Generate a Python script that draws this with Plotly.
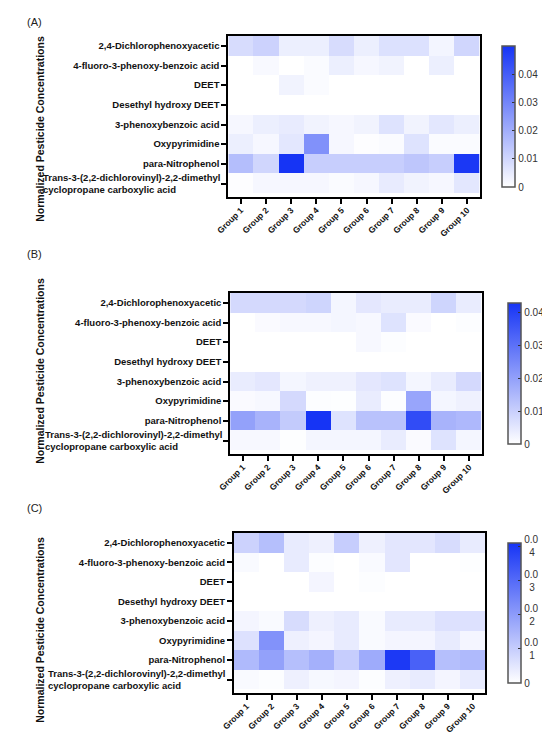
import plotly.graph_objects as go

# Heatmaps of normalized pesticide concentrations, panels (A), (B), (C)
compounds = [
    "2,4-Dichlorophenoxyacetic",
    "4-fluoro-3-phenoxy-benzoic acid",
    "DEET",
    "Desethyl hydroxy DEET",
    "3-phenoxybenzoic acid",
    "Oxypyrimidine",
    "para-Nitrophenol",
    "Trans-3-(2,2-dichlorovinyl)-2,2-dimethyl<br>cyclopropane carboxylic acid",
]
groups = ["Group 1", "Group 2", "Group 3", "Group 4", "Group 5",
          "Group 6", "Group 7", "Group 8", "Group 9", "Group 10"]

# values (rows = compounds, columns = groups)
panel_a = [
    [0.0085, 0.011, 0.004, 0.004, 0.0085, 0.004, 0.0075, 0.0075, 0.0025, 0.010],
    [0.0, 0.0015, 0.0, 0.001, 0.004, 0.002, 0.003, 0.0, 0.004, 0.0],
    [0.0, 0.0, 0.003, 0.001, 0.0, 0.0, 0.0, 0.0, 0.0, 0.0],
    [0.0, 0.0, 0.0, 0.0, 0.0, 0.0, 0.0, 0.0, 0.0, 0.0],
    [0.002, 0.004, 0.005, 0.003, 0.002, 0.003, 0.007, 0.003, 0.006, 0.004],
    [0.004, 0.002, 0.006, 0.027, 0.002, 0.0005, 0.001, 0.007, 0.001, 0.001],
    [0.016, 0.010, 0.050, 0.012, 0.012, 0.012, 0.012, 0.014, 0.012, 0.049],
    [0.0005, 0.002, 0.002, 0.002, 0.001, 0.002, 0.005, 0.003, 0.002, 0.006],
]
panel_b = [
    [0.008, 0.008, 0.008, 0.009, 0.002, 0.005, 0.004, 0.004, 0.009, 0.004],
    [0.0, 0.001, 0.0015, 0.0015, 0.002, 0.0015, 0.006, 0.001, 0.0, 0.0005],
    [0.0, 0.0, 0.0, 0.0, 0.0, 0.0015, 0.0005, 0.0, 0.0, 0.0],
    [0.0, 0.0, 0.0, 0.0, 0.0, 0.0, 0.0, 0.0, 0.0, 0.0],
    [0.004, 0.005, 0.002, 0.003, 0.003, 0.005, 0.006, 0.002, 0.004, 0.008],
    [0.001, 0.0015, 0.008, 0.0005, 0.0003, 0.004, 0.0005, 0.019, 0.002, 0.003],
    [0.020, 0.016, 0.011, 0.043, 0.006, 0.013, 0.013, 0.038, 0.016, 0.015],
    [0.0015, 0.0015, 0.0003, 0.002, 0.002, 0.002, 0.004, 0.001, 0.006, 0.002],
]
panel_c = [
    [0.009, 0.013, 0.004, 0.003, 0.010, 0.003, 0.005, 0.005, 0.007, 0.004],
    [0.001, 0.0, 0.004, 0.0005, 0.0, 0.001, 0.005, 0.0, 0.0, 0.0003],
    [0.0, 0.0, 0.0, 0.002, 0.0, 0.0005, 0.0, 0.0, 0.0, 0.0],
    [0.0, 0.0, 0.0, 0.0, 0.0, 0.0, 0.0, 0.0, 0.0, 0.0],
    [0.002, 0.001, 0.007, 0.003, 0.004, 0.001, 0.004, 0.004, 0.006, 0.006],
    [0.006, 0.022, 0.003, 0.002, 0.004, 0.001, 0.002, 0.002, 0.004, 0.002],
    [0.014, 0.019, 0.013, 0.016, 0.010, 0.017, 0.040, 0.032, 0.013, 0.014],
    [0.001, 0.0005, 0.003, 0.0015, 0.002, 0.0005, 0.003, 0.004, 0.002, 0.004],
]
z_max = [0.050, 0.043, 0.041]
cbar_ticks = [0, 0.01, 0.02, 0.03, 0.04]
cbar_text_ab = ["0", "0.01", "0.02", "0.03", "0.04"]
cbar_text_c = ["0", "0.0<br>\u20021", "0.0<br>\u20022", "0.0<br>\u20023", "0.0<br>\u20024"]
panel_labels = ["(A)", "(B)", "(C)"]
y_title = "Normalized Pesticide Concentrations"

W, H = 550, 735
blues = [[0, "rgb(255,255,255)"], [1, "rgb(22,52,245)"]]
font_fam = "Liberation Sans, Arial, sans-serif"

# pixel boxes: heatmap (x0, x1, y0, y1), colorbar x0, y-title centre, label centre
boxes = [
    dict(hm=(221, 489, 28, 189), cb=502, title_y=121, lab_y=14),
    dict(hm=(223, 491, 285, 446), cb=508, title_y=363, lab_y=246),
    dict(hm=(227, 495, 525, 685), cb=508, title_y=622, lab_y=500),
]

# last label drawn as a left-aligned annotation
tick_text = compounds[:-1] + [""]

fig = go.Figure()
layout = {}
annotations = []
for i, (data, box) in enumerate(zip([panel_a, panel_b, panel_c], boxes)):
    n = "" if i == 0 else str(i + 1)
    x0, x1, y0, y1 = box["hm"]
    fig.add_trace(go.Heatmap(
        z=data, x=groups, y=compounds,
        xaxis="x" + n, yaxis="y" + n,
        zmin=0, zmax=z_max[i], colorscale=blues,
        colorbar=dict(
            x=box["cb"] / W, xanchor="left",
            y=1 - (y0 + y1) / 2 / H, yanchor="middle",
            len=(y1 - y0) / H, lenmode="fraction",
            thickness=13, outlinecolor="#555", outlinewidth=1.5,
            tickvals=cbar_ticks,
            ticktext=cbar_text_c if i == 2 else cbar_text_ab,
            ticks="inside", ticklen=3, tickcolor="#333",
            tickfont=dict(size=10, color="#333", family=font_fam),
        ),
    ))
    layout["xaxis" + n] = dict(
        domain=[x0 / W, x1 / W], anchor="y" + n,
        showline=True, linecolor="black", linewidth=2, mirror=True,
        ticks="outside", ticklen=5, tickwidth=1.5, tickcolor="black",
        tickangle=-45, ticklabelstandoff=-2,
        tickfont=dict(size=8.5, family=font_fam, color="#111", weight="bold"),
        showgrid=False, zeroline=False,
    )
    layout["yaxis" + n] = dict(
        domain=[1 - y1 / H, 1 - y0 / H], anchor="x" + n,
        autorange="reversed",
        showline=True, linecolor="black", linewidth=2, mirror=True,
        ticks="outside", ticklen=5, tickwidth=1.5, tickcolor="black",
        tickmode="array", tickvals=compounds, ticktext=tick_text,
        tickfont=dict(size=9.5, family=font_fam, color="#111", weight="bold"),
        showgrid=False, zeroline=False,
    )
    annotations.append(dict(
        text=compounds[-1], xref="paper", yref="y" + n,
        x=(x0 - 7) / W, y=compounds[-1], xanchor="right", yanchor="middle",
        align="left", showarrow=False,
        font=dict(size=9.5, family=font_fam, color="#111", weight="bold"),
    ))
    annotations.append(dict(
        text=y_title, xref="paper", yref="paper",
        x=20 / W, y=1 - box["title_y"] / H, xanchor="center", yanchor="middle",
        textangle=-90, showarrow=False,
        font=dict(size=10.5, family=font_fam, color="#111", weight="bold"),
    ))
    annotations.append(dict(
        text=panel_labels[i], xref="paper", yref="paper",
        x=4 / W, y=1 - box["lab_y"] / H, xanchor="left", yanchor="middle",
        showarrow=False,
        font=dict(size=11, family=font_fam, color="#222"),
    ))

fig.update_layout(
    width=W, height=H,
    margin=dict(l=0, r=0, t=0, b=0),
    paper_bgcolor="white", plot_bgcolor="white",
    showlegend=False,
    annotations=annotations,
    **layout,
)

fig.write_html("out.html")
